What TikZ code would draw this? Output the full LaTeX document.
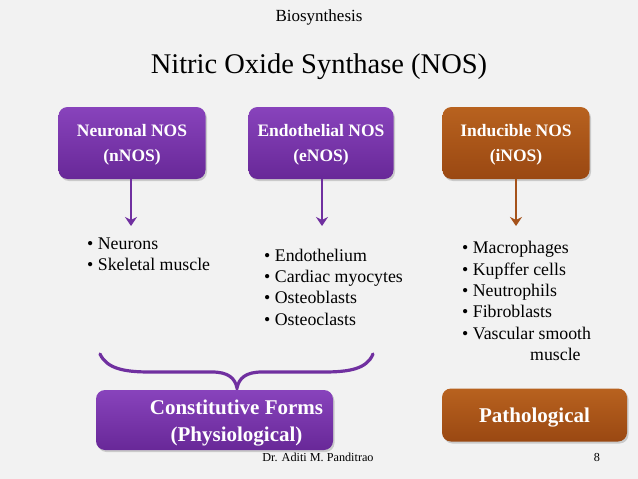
\documentclass[tikz,border=0pt]{standalone}
\usepackage{fontspec}
\setmainfont{Liberation Serif}[Ligatures=TeX]
\usetikzlibrary{arrows.meta,shadows}
\definecolor{bgc}{HTML}{F2F2F2}
\definecolor{purp}{HTML}{7030A0}
\definecolor{purptop}{HTML}{8843BC}
\definecolor{purpbot}{HTML}{682898}
\definecolor{orng}{HTML}{A5521A}
\definecolor{orngtop}{HTML}{B8621F}
\definecolor{orngbot}{HTML}{9A4812}
\tikzset{
  every node/.style={font=\rmfamily},
  pbox/.style={rounded corners=9pt, top color=purptop, bottom color=purpbot, draw=none,
    drop shadow={opacity=0.35, shadow xshift=1.5pt, shadow yshift=-2pt}},
  obox/.style={pbox, top color=orngtop, bottom color=orngbot},
  boxtext/.style={text=white, font=\rmfamily\fontsize{17.5}{25}\selectfont\bfseries, align=center},
  bigtext/.style={boxtext, font=\rmfamily\fontsize{21}{27}\selectfont\bfseries},
  listtext/.style={font=\rmfamily\fontsize{17.8}{21.3}\selectfont, align=left, anchor=west, inner sep=0pt},
  parrow/.style={draw=purp, line width=2pt, -{Stealth[length=9pt,width=12pt,inset=3pt]}},
  oarrow/.style={parrow, draw=orng}
}
\begin{document}
\begin{tikzpicture}[x=1pt,y=-1pt]
\fill[bgc] (0,0) rectangle (638,479);
\useasboundingbox (0,0) rectangle (638,479);
\node (hdr) at (319,17) {\rmfamily\fontsize{17}{20}\selectfont Biosynthesis};
\node (title) at (319,67) {\rmfamily\fontsize{28.5}{32}\selectfont Nitric Oxide Synthase (NOS)};

\node[pbox, minimum width=147pt, minimum height=72pt] (nn) at (132,143) {};
\node[pbox, minimum width=145pt, minimum height=72pt] (en) at (321,143) {};
\node[obox, minimum width=147pt, minimum height=72pt] (in) at (516,143) {};
\node[boxtext] (nnt) at (132,145) {Neuronal NOS\\(nNOS)};
\node[boxtext] (ent) at (321,145) {Endothelial NOS\\(eNOS)};
\node[boxtext] (int) at (516,145) {Inducible NOS\\(iNOS)};

\coordinate (na) at (131,226);
\coordinate (ea) at (322,226);
\coordinate (ia) at (516,226);
\draw[parrow] (nn.south -| na) -- (na);
\draw[parrow] (en.south -| ea) -- (ea);
\draw[oarrow] (in.south -| ia) -- (ia);

\node[listtext] (nl) at (87,254) {\textbullet\ Neurons\\\textbullet\ Skeletal muscle};
\node[listtext] (el) at (264,287) {\textbullet\ Endothelium\\\textbullet\ Cardiac myocytes\\\textbullet\ Osteoblasts\\\textbullet\ Osteoclasts};
\node[listtext] (il) at (462,301) {\textbullet\ Macrophages\\\textbullet\ Kupffer cells\\\textbullet\ Neutrophils\\\textbullet\ Fibroblasts\\\textbullet\ Vascular smooth\\\hspace{68pt}muscle};

\coordinate (bl) at (100,354);
\coordinate (br) at (373,354);
\coordinate (bt) at (237,388);
\draw[purp, line width=3.2pt, line cap=round]
  (bl) .. controls (107,369) and (125,372) .. (150,372)
  -- (212,372) .. controls (228,372) and (235,378) .. (bt)
  .. controls (239,378) and (246,372) .. (262,372)
  -- (324,372) .. controls (349,372) and (367,369) .. (br);

\node[pbox, minimum width=237pt, minimum height=60pt] (cf) at (214.5,420) {};
\node[bigtext] (cft) at (236.5,423) {Constitutive Forms\\(Physiological)};
\node[obox, minimum width=185pt, minimum height=53pt] (pa) at (534.5,415) {};
\node[bigtext] (pat) at (534.5,418) {Pathological};

\node (ft) at (318,457) {\rmfamily\fontsize{12.2}{14}\selectfont Dr. Aditi M. Panditrao};
\node (pg) at (597,457) {\rmfamily\fontsize{12.2}{14}\selectfont 8};
\end{tikzpicture}
\end{document}
